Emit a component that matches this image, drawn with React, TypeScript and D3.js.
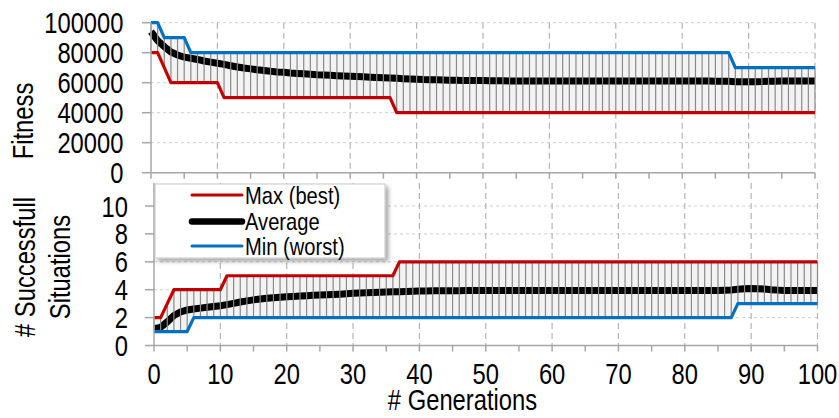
import React from 'react';
import * as d3 from 'd3';

const W = 839;
const H = 418;

// ---- data ----
const xTickValues = [0, 10, 20, 30, 40, 50, 60, 70, 80, 90, 100];
const xMinorTicks = [0, 5, 10, 15, 20, 25, 30, 35, 40, 45, 50, 55, 60, 65, 70, 75, 80, 85, 90, 95, 100];
const fitnessTicks = [0, 20000, 40000, 60000, 80000, 100000];
const successTicks = [0, 2, 4, 6, 8, 10];

const fitnessMax = [
  80000, 80000, 70000, 60000, 60000, 60000, 60000, 60000, 60000, 60000,
  60000, 50000, 50000, 50000, 50000, 50000, 50000, 50000, 50000, 50000,
  50000, 50000, 50000, 50000, 50000, 50000, 50000, 50000, 50000, 50000,
  50000, 50000, 50000, 50000, 50000, 50000, 50000, 40000, 40000, 40000,
  40000, 40000, 40000, 40000, 40000, 40000, 40000, 40000, 40000, 40000,
  40000, 40000, 40000, 40000, 40000, 40000, 40000, 40000, 40000, 40000,
  40000, 40000, 40000, 40000, 40000, 40000, 40000, 40000, 40000, 40000,
  40000, 40000, 40000, 40000, 40000, 40000, 40000, 40000, 40000, 40000,
  40000, 40000, 40000, 40000, 40000, 40000, 40000, 40000, 40000, 40000,
  40000, 40000, 40000, 40000, 40000, 40000, 40000, 40000, 40000, 40000,
  40000,
];

const fitnessAvg = [
  94000, 88000, 84000, 80500, 78500, 77000, 76300, 75500, 74500, 73700,
  73000, 72200, 71300, 70500, 69800, 69200, 68600, 68100, 67600, 67200,
  66900, 66500, 66200, 65900, 65600, 65300, 65100, 64900, 64700, 64500,
  64300, 64100, 63900, 63700, 63500, 63300, 63100, 62900, 62700, 62500,
  62300, 62100, 62000, 61900, 61800, 61700, 61600, 61500, 61500, 61400,
  61400, 61300, 61300, 61300, 61200, 61200, 61200, 61200, 61200, 61100,
  61100, 61100, 61100, 61100, 61100, 61100, 61100, 61100, 61100, 61100,
  61100, 61100, 61100, 61100, 61100, 61100, 61100, 61100, 61100, 61100,
  61100, 61100, 61100, 61100, 61100, 61000, 61000, 60900, 60700, 60600,
  60600, 60700, 60800, 61000, 61000, 61100, 61100, 61100, 61100, 61100,
  61100,
];

const fitnessMin = [
  100000, 100000, 90000, 90000, 90000, 90000, 80000, 80000, 80000, 80000,
  80000, 80000, 80000, 80000, 80000, 80000, 80000, 80000, 80000, 80000,
  80000, 80000, 80000, 80000, 80000, 80000, 80000, 80000, 80000, 80000,
  80000, 80000, 80000, 80000, 80000, 80000, 80000, 80000, 80000, 80000,
  80000, 80000, 80000, 80000, 80000, 80000, 80000, 80000, 80000, 80000,
  80000, 80000, 80000, 80000, 80000, 80000, 80000, 80000, 80000, 80000,
  80000, 80000, 80000, 80000, 80000, 80000, 80000, 80000, 80000, 80000,
  80000, 80000, 80000, 80000, 80000, 80000, 80000, 80000, 80000, 80000,
  80000, 80000, 80000, 80000, 80000, 80000, 80000, 80000, 70000, 70000,
  70000, 70000, 70000, 70000, 70000, 70000, 70000, 70000, 70000, 70000,
  70000,
];

const successMax = [
  2, 2, 3, 4, 4, 4, 4, 4, 4, 4,
  4, 5, 5, 5, 5, 5, 5, 5, 5, 5,
  5, 5, 5, 5, 5, 5, 5, 5, 5, 5,
  5, 5, 5, 5, 5, 5, 5, 6, 6, 6,
  6, 6, 6, 6, 6, 6, 6, 6, 6, 6,
  6, 6, 6, 6, 6, 6, 6, 6, 6, 6,
  6, 6, 6, 6, 6, 6, 6, 6, 6, 6,
  6, 6, 6, 6, 6, 6, 6, 6, 6, 6,
  6, 6, 6, 6, 6, 6, 6, 6, 6, 6,
  6, 6, 6, 6, 6, 6, 6, 6, 6, 6,
  6,
];

const successAvg = [
  1.2, 1.3, 1.7, 2.15, 2.4, 2.55, 2.62, 2.68, 2.74, 2.8,
  2.85, 2.93, 3.02, 3.12, 3.2, 3.27, 3.33, 3.38, 3.43, 3.46,
  3.5, 3.52, 3.55, 3.57, 3.6, 3.62, 3.64, 3.66, 3.68, 3.71,
  3.74, 3.76, 3.78, 3.8, 3.82, 3.84, 3.85, 3.86, 3.88, 3.89,
  3.9, 3.91, 3.92, 3.92, 3.93, 3.93, 3.93, 3.94, 3.94, 3.94,
  3.94, 3.94, 3.94, 3.94, 3.94, 3.94, 3.94, 3.94, 3.94, 3.94,
  3.94, 3.94, 3.94, 3.94, 3.94, 3.94, 3.94, 3.94, 3.94, 3.94,
  3.94, 3.94, 3.94, 3.94, 3.94, 3.94, 3.94, 3.94, 3.94, 3.94,
  3.94, 3.94, 3.94, 3.94, 3.94, 3.95, 3.96, 3.98, 4.03, 4.07,
  4.08, 4.07, 4.05, 4.0, 3.97, 3.95, 3.94, 3.94, 3.94, 3.94,
  3.94,
];

const successMin = [
  1, 1, 1, 1, 1, 1, 2, 2, 2, 2,
  2, 2, 2, 2, 2, 2, 2, 2, 2, 2,
  2, 2, 2, 2, 2, 2, 2, 2, 2, 2,
  2, 2, 2, 2, 2, 2, 2, 2, 2, 2,
  2, 2, 2, 2, 2, 2, 2, 2, 2, 2,
  2, 2, 2, 2, 2, 2, 2, 2, 2, 2,
  2, 2, 2, 2, 2, 2, 2, 2, 2, 2,
  2, 2, 2, 2, 2, 2, 2, 2, 2, 2,
  2, 2, 2, 2, 2, 2, 2, 2, 3, 3,
  3, 3, 3, 3, 3, 3, 3, 3, 3, 3,
  3,
];

const legendItems = [
  { label: 'Max (best)', color: '#c00000', width: 3 },
  { label: 'Average', color: '#000000', width: 6.5 },
  { label: 'Min (worst)', color: '#0070c0', width: 3 },
];

// ---- styling ----
const RED = '#c00000';
const BLUE = '#0070c0';
const AXIS = '#a6a6a6';
const FONT = '"Liberation Sans", Arial, sans-serif';
const SX = 0.82;

function Txt({ x, y, size, anchor = 'start', rotate = false, sx = SX, children }: any) {
  const tr = `translate(${x},${y})${rotate ? ' rotate(-90)' : ''} scale(${sx},1)`;
  return (
    <text transform={tr} fontSize={size} textAnchor={anchor} fontFamily={FONT} fill="#000">
      {children}
    </text>
  );
}

type PanelProps = {
  x: d3.ScaleLinear<number, number>;
  y: d3.ScaleLinear<number, number>;
  yTicks: number[];
  yTop: number;
  maxS: number[];
  avgS: number[];
  minS: number[];
  labelX: number;
  showXLabels: boolean;
  topGrid: boolean;
};

function Panel({ x, y, yTicks, yTop, maxS, avgS, minS, labelX, showXLabels, topGrid }: PanelProps) {
  const idx = maxS.map((_, i) => i);
  const line = (s: number[]) =>
    d3.line<number>().x((i) => x(i)).y((i) => y(s[i]))(idx) || '';
  const band =
    d3
      .area<number>()
      .x((i) => x(i))
      .y0((i) => y(minS[i]))
      .y1((i) => y(maxS[i]))(idx) || '';
  const [x0, x1] = x.range();
  const y0 = y(0);
  return (
    <g>
      {/* horizontal gridlines */}
      {yTicks.filter((t) => t !== 0).map((t) => (
        <line key={'h' + t} x1={x0} x2={x1} y1={y(t)} y2={y(t)} stroke="#cfcfcf" strokeWidth={1} strokeDasharray="3,3" />
      ))}
      {/* vertical gridlines */}
      {xTickValues.filter((t) => t !== 0).map((t) => (
        <line key={'v' + t} x1={x(t)} x2={x(t)} y1={topGrid ? y(yTicks[yTicks.length - 1]) : yTop} y2={y0} stroke="#b4b4b4" strokeWidth={1.2} strokeDasharray="6,4" />
      ))}
      <path d={band} fill="#f3f3f3" stroke="none" />
      <path d={line(avgS)} fill="none" stroke="#000" strokeWidth={7} />
      {/* error bars */}
      {idx.map((i) => (
        <line key={'e' + i} x1={x(i)} x2={x(i)} y1={y(minS[i])} y2={y(maxS[i])} stroke="#8a8a8a" strokeWidth={1.2} />
      ))}
      <path d={line(maxS)} fill="none" stroke={RED} strokeWidth={3.2} strokeLinejoin="round" />
      <path d={line(minS)} fill="none" stroke={BLUE} strokeWidth={3.2} strokeLinejoin="round" />
      {/* axes */}
      <line x1={x0} x2={x0} y1={yTop} y2={y0} stroke={AXIS} strokeWidth={1.5} />
      <line x1={x0} x2={x1} y1={y0} y2={y0} stroke={AXIS} strokeWidth={1.5} />
      {yTicks.map((t) => (
        <line key={'yt' + t} x1={x0 - 9} x2={x0} y1={y(t)} y2={y(t)} stroke={AXIS} strokeWidth={1.5} />
      ))}
      {xMinorTicks.map((t) => (
        <line key={'xt' + t} x1={x(t)} x2={x(t)} y1={y0} y2={y0 + 6} stroke={AXIS} strokeWidth={1.5} />
      ))}
      {yTicks.map((t) => (
        <Txt key={'yl' + t} x={labelX} y={y(t) + 10.5} size={29} anchor="end">
          {String(t)}
        </Txt>
      ))}
      {showXLabels &&
        xTickValues.map((t) => (
          <Txt key={'xl' + t} x={x(t)} y={383.5} size={29} anchor="middle">
            {String(t)}
          </Txt>
        ))}
    </g>
  );
}

export default function App() {
  const xTop = d3.scaleLinear().domain([0, 100]).range([151, 815]);
  const yTop = d3.scaleLinear().domain([0, 100000]).range([172.7, 22.7]);
  const xBot = d3.scaleLinear().domain([0, 100]).range([154, 817.5]);
  const yBot = d3.scaleLinear().domain([0, 11.65]).range([345.5, 183]);

  const lg = { x: 155, y: 184, w: 230, h: 74 };
  const rowY = [195, 221.5, 246];

  return (
    <svg width={W} height={H} style={{ position: 'absolute', left: 0, top: 0, background: '#fff' }}>
      <defs>
        <filter id="shadow" x="-10%" y="-10%" width="130%" height="140%">
          <feGaussianBlur in="SourceAlpha" stdDeviation="2" />
          <feOffset dx="3" dy="3" result="ob" />
          <feComponentTransfer>
            <feFuncA type="linear" slope="0.35" />
          </feComponentTransfer>
          <feMerge>
            <feMergeNode />
            <feMergeNode in="SourceGraphic" />
          </feMerge>
        </filter>
      </defs>
      <rect x={0} y={0} width={W} height={H} fill="#fff" />
      <Panel x={xTop} y={yTop} yTicks={fitnessTicks} yTop={22.7} maxS={fitnessMax} avgS={fitnessAvg} minS={fitnessMin} labelX={123.5} showXLabels={false} topGrid={true} />
      <Panel x={xBot} y={yBot} yTicks={successTicks} yTop={183} maxS={successMax} avgS={successAvg} minS={successMin} labelX={128} showXLabels={true} topGrid={false} />

      {/* axis titles */}
      <Txt x={33} y={121} size={29} anchor="middle" rotate>
        Fitness
      </Txt>
      <Txt x={35} y={267} size={29} anchor="middle" rotate>
        # Successfull
      </Txt>
      <Txt x={70} y={267} size={29} anchor="middle" rotate>
        Situations
      </Txt>
      <Txt x={462.5} y={410} size={29} anchor="middle">
        # Generations
      </Txt>

      {/* legend */}
      <g>
        <rect x={lg.x} y={lg.y} width={lg.w} height={lg.h} fill="#fff" stroke="#c8c8c8" strokeWidth={1} filter="url(#shadow)" />
        {legendItems.map((it, i) => (
          <g key={it.label}>
            <line x1={192} x2={242} y1={rowY[i]} y2={rowY[i]} stroke={it.color} strokeWidth={it.width} strokeLinecap="round" />
            <Txt x={245} y={rowY[i] + 8.5} size={24} sx={0.84}>
              {it.label}
            </Txt>
          </g>
        ))}
      </g>
    </svg>
  );
}
